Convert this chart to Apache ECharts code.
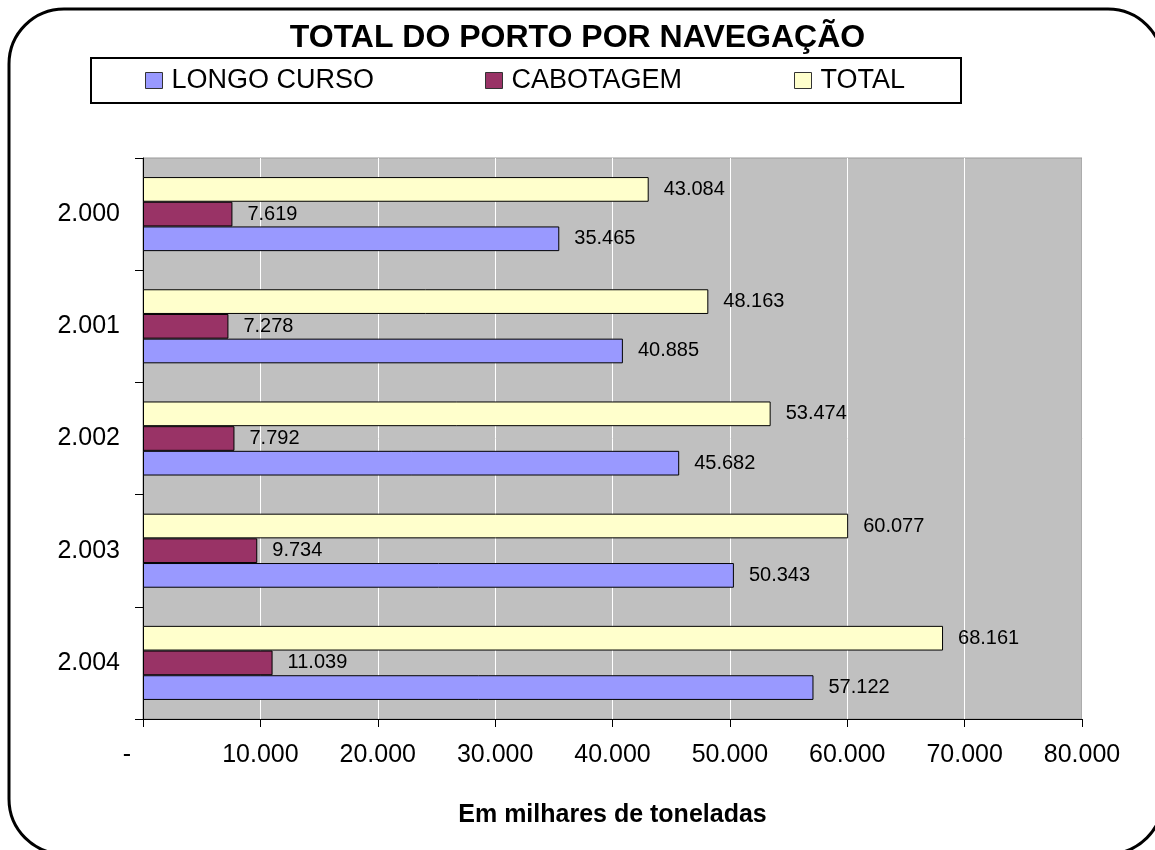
<!DOCTYPE html>
<html>
<head>
<meta charset="utf-8">
<script src="https://cdn.jsdelivr.net/npm/echarts@6/dist/echarts.min.js"></script>
<style>
html,body{margin:0;padding:0;background:#fff;}
#chart{width:1155px;height:850px;}
</style>
</head>
<body>
<div id="chart"></div>
<script>
const categories = ['2.000', '2.001', '2.002', '2.003', '2.004'];
const longoCurso = [35465, 40885, 45682, 50343, 57122];
const cabotagem = [7619, 7278, 7792, 9734, 11039];
const total = [43084, 48163, 53474, 60077, 68161];
const seriesNames = ['LONGO CURSO', 'CABOTAGEM', 'TOTAL'];
const xTicks = [0, 10000, 20000, 30000, 40000, 50000, 60000, 70000, 80000];

const FONT = '"Liberation Sans", Arial, sans-serif';
function fmt(v) {
  if (v === 0) return '-';
  return String(Math.round(v)).replace(/\B(?=(\d{3})+(?!\d))/g, '.');
}

const chart = echarts.init(document.getElementById('chart'), null, {renderer: 'canvas'});

function barSeries(name, data, color) {
  return {
    name: name,
    type: 'bar',
    data: data,
    barGap: '0%',
    barCategoryGap: '34%',
    itemStyle: {color: color, borderColor: '#000', borderWidth: 1},
    label: {
      show: true,
      position: 'right',
      distance: 15,
      color: '#000',
      fontFamily: FONT,
      fontSize: 20,
      formatter: p => fmt(p.value)
    },
    emphasis: {disabled: true},
    animation: false
  };
}

function legend(name, left) {
  return {
    data: [{name: name, icon: 'rect'}],
    left: left,
    top: 67,
    padding: 0,
    itemWidth: 17,
    itemHeight: 16,
    itemStyle: {borderColor: '#333', borderWidth: 1},
    selectedMode: false,
    textStyle: {fontFamily: FONT, fontSize: 27, color: '#000', padding: [0, 0, 0, 4]}
  };
}

chart.setOption({
  backgroundColor: '#fff',
  animation: false,
  title: {
    text: 'TOTAL DO PORTO POR NAVEGAÇÃO',
    left: 'center',
    top: 17,
    textStyle: {fontFamily: FONT, fontSize: 32, fontWeight: 'bold', color: '#000'}
  },
  graphic: [
    {
      type: 'rect',
      shape: {x: 9, y: 9, width: 1154, height: 845, r: 55},
      style: {fill: null, stroke: '#000', lineWidth: 3},
      silent: true,
      z: 100
    },
    {
      type: 'rect',
      shape: {x: 91, y: 58, width: 870, height: 45},
      style: {fill: null, stroke: '#000', lineWidth: 2},
      silent: true,
      z: 100
    }
  ],
  legend: [
    legend(seriesNames[0], 145),
    legend(seriesNames[1], 485),
    legend(seriesNames[2], 794)
  ],
  grid: {
    left: 143, right: 73, top: 158, bottom: 131,
    show: true,
    backgroundColor: '#c0c0c0',
    borderColor: '#999',
    borderWidth: 1
  },
  xAxis: {
    type: 'value',
    min: 0, max: 80000, interval: 10000,
    axisLine: {show: true, lineStyle: {color: '#000', width: 1}},
    axisTick: {show: true, length: 8, lineStyle: {color: '#000'}},
    splitLine: {show: true, lineStyle: {color: '#fff', width: 1}},
    axisLabel: {
      fontFamily: FONT, fontSize: 25, color: '#000', margin: 24,
      formatter: v => v === 0 ? '{d|-}' : fmt(v),
      rich: {d: {fontFamily: FONT, fontSize: 25, color: '#000', padding: [0, 32, 0, 0]}}
    },
    name: 'Em milhares de toneladas',
    nameLocation: 'middle',
    nameGap: 84,
    nameTextStyle: {fontFamily: FONT, fontSize: 25, fontWeight: 'bold', color: '#000'}
  },
  yAxis: {
    type: 'category',
    data: categories,
    inverse: true,
    axisLine: {show: true, lineStyle: {color: '#000', width: 1}},
    axisTick: {show: true, length: 8, lineStyle: {color: '#000'}},
    splitLine: {show: false},
    axisLabel: {fontFamily: FONT, fontSize: 25, color: '#000', margin: 23}
  },
  series: [
    barSeries(seriesNames[2], total, '#ffffcc'),
    barSeries(seriesNames[1], cabotagem, '#993366'),
    barSeries(seriesNames[0], longoCurso, '#9999ff')
  ]
});
</script>
</body>
</html>
